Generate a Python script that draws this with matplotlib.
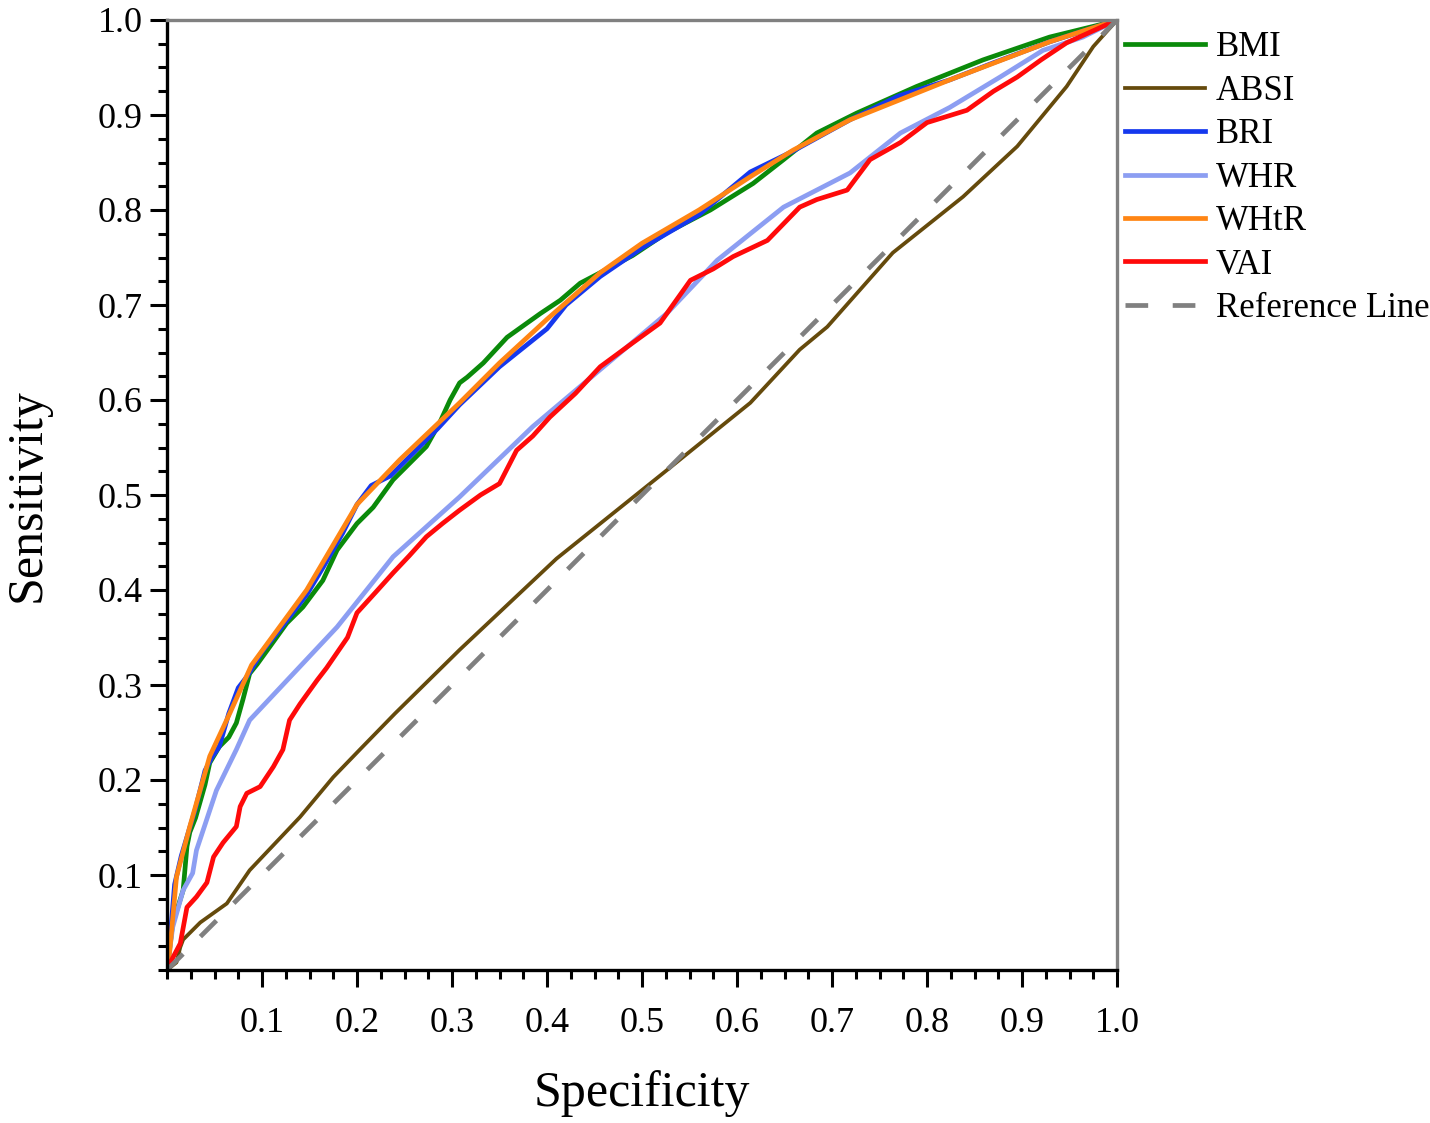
import numpy as np
import matplotlib
matplotlib.use('Agg')
import matplotlib.pyplot as plt
from matplotlib.ticker import MultipleLocator, FixedLocator

plt.rcParams['font.family'] = ['Liberation Serif', 'DejaVu Serif']

# ROC points (x = 1 - specificity axis shown as "Specificity")
bmi_x = [0, 0.006, 0.017, 0.021, 0.024, 0.03, 0.04, 0.045, 0.055, 0.065, 0.073, 0.08, 0.087, 0.095,
         0.108, 0.126, 0.143, 0.164, 0.179, 0.2, 0.217, 0.238, 0.259, 0.273, 0.287, 0.298, 0.308,
         0.316, 0.333, 0.358, 0.393, 0.414, 0.435, 0.456, 0.49, 0.526, 0.572, 0.617, 0.649, 0.684,
         0.726, 0.789, 0.859, 0.929, 0.982, 1.0]
bmi_y = [0, 0.049, 0.084, 0.13, 0.145, 0.16, 0.195, 0.218, 0.235, 0.245, 0.26, 0.285, 0.312, 0.322,
         0.34, 0.365, 0.382, 0.41, 0.442, 0.47, 0.487, 0.516, 0.537, 0.551, 0.576, 0.60, 0.618,
         0.624, 0.639, 0.666, 0.691, 0.705, 0.723, 0.734, 0.752, 0.776, 0.80, 0.828, 0.853, 0.881,
         0.902, 0.93, 0.958, 0.982, 0.995, 1.0]

absi_x = [0, 0.01, 0.014, 0.017, 0.035, 0.063, 0.087, 0.14, 0.175, 0.203, 0.24, 0.308, 0.41,
          0.526, 0.614, 0.666, 0.695, 0.764, 0.838, 0.895, 0.947, 0.975, 1.0]
absi_y = [0, 0.008, 0.024, 0.032, 0.05, 0.07, 0.105, 0.161, 0.203, 0.232, 0.27, 0.337, 0.433,
          0.526, 0.597, 0.653, 0.677, 0.755, 0.814, 0.867, 0.93, 0.972, 1.0]

bri_x = [0, 0.003, 0.008, 0.015, 0.024, 0.03, 0.04, 0.048, 0.055, 0.065, 0.075, 0.085, 0.1,
         0.12, 0.147, 0.165, 0.185, 0.2, 0.215, 0.235, 0.26, 0.285, 0.308, 0.35, 0.4, 0.42,
         0.456, 0.5, 0.56, 0.614, 0.659, 0.719, 0.77, 0.824, 0.87, 0.929, 1.0]
bri_y = [0, 0.03, 0.09, 0.12, 0.15, 0.17, 0.21, 0.225, 0.235, 0.27, 0.297, 0.31, 0.335,
         0.36, 0.395, 0.425, 0.46, 0.49, 0.51, 0.52, 0.545, 0.57, 0.595, 0.635, 0.675, 0.70,
         0.73, 0.76, 0.795, 0.84, 0.862, 0.895, 0.92, 0.937, 0.955, 0.977, 1.0]

whr_x = [0, 0.006, 0.017, 0.027, 0.031, 0.052, 0.073, 0.087, 0.133, 0.179, 0.238, 0.308,
         0.385, 0.456, 0.526, 0.579, 0.649, 0.719, 0.772, 0.824, 0.877, 0.922, 0.964, 1.0]
whr_y = [0, 0.045, 0.084, 0.102, 0.126, 0.189, 0.232, 0.263, 0.312, 0.361, 0.435, 0.498,
         0.572, 0.632, 0.691, 0.747, 0.803, 0.839, 0.881, 0.908, 0.94, 0.968, 0.982, 1.0]

whtr_x = [0, 0.003, 0.01, 0.024, 0.045, 0.066, 0.089, 0.147, 0.2, 0.245, 0.308, 0.35, 0.4,
          0.456, 0.5, 0.56, 0.614, 0.659, 0.719, 0.824, 0.929, 1.0]
whtr_y = [0, 0.021, 0.098, 0.151, 0.225, 0.27, 0.321, 0.40, 0.49, 0.537, 0.597, 0.639, 0.685,
          0.734, 0.765, 0.80, 0.835, 0.863, 0.895, 0.937, 0.977, 1.0]

vai_x = [0, 0.003, 0.014, 0.021, 0.031, 0.042, 0.049, 0.059, 0.073, 0.077, 0.084, 0.098,
         0.112, 0.122, 0.129, 0.14, 0.158, 0.168, 0.179, 0.19, 0.2, 0.22, 0.238, 0.255, 0.273,
         0.29, 0.308, 0.33, 0.35, 0.368, 0.385, 0.403, 0.43, 0.456, 0.49, 0.519, 0.551, 0.575,
         0.596, 0.632, 0.666, 0.684, 0.716, 0.74, 0.772, 0.8, 0.842, 0.87, 0.895, 0.92, 0.947, 1.0]
vai_y = [0, 0.007, 0.028, 0.066, 0.077, 0.092, 0.119, 0.134, 0.151, 0.172, 0.186, 0.193,
         0.214, 0.232, 0.263, 0.28, 0.305, 0.318, 0.334, 0.35, 0.376, 0.398, 0.418, 0.436, 0.456,
         0.47, 0.484, 0.50, 0.512, 0.547, 0.562, 0.582, 0.607, 0.635, 0.66, 0.681, 0.726, 0.738,
         0.751, 0.768, 0.803, 0.811, 0.821, 0.853, 0.871, 0.892, 0.905, 0.925, 0.94, 0.958, 0.976, 1.0]

ref_x = [0, 1]
ref_y = [0, 1]

fig = plt.figure(figsize=(14.3, 11.23), dpi=100)
ax = fig.add_axes([167 / 1430, 1 - 970 / 1123, 950 / 1430, 950 / 1123])

lw = 3.4
ax.plot(bmi_x, bmi_y, color='#0a8a0a', lw=lw, label='BMI')
ax.plot(absi_x, absi_y, color='#654a0c', lw=2.7, label='ABSI')
ax.plot(bri_x, bri_y, color='#1538ee', lw=lw, label='BRI')
ax.plot(whr_x, whr_y, color='#8c9ef2', lw=lw, label='WHR')
ax.plot(whtr_x, whtr_y, color='#ff8514', lw=lw, label='WHtR')
ax.plot(vai_x, vai_y, color='#ff0a0a', lw=lw, label='VAI')
ax.plot(ref_x, ref_y, color='#808080', lw=lw, dashes=(4.8, 5.2), label='Reference Line')

ax.set_xlim(0, 1)
ax.set_ylim(0, 1)

major = [0.1, 0.2, 0.3, 0.4, 0.5, 0.6, 0.7, 0.8, 0.9, 1.0]
labels = ['0.1', '0.2', '0.3', '0.4', '0.5', '0.6', '0.7', '0.8', '0.9', '1.0']
ax.xaxis.set_major_locator(FixedLocator(major))
ax.yaxis.set_major_locator(FixedLocator(major))
ax.set_xticklabels(labels)
ax.set_yticklabels(labels)
ax.xaxis.set_minor_locator(MultipleLocator(0.025))
ax.yaxis.set_minor_locator(MultipleLocator(0.025))
ax.tick_params(which='major', direction='out', length=12.5, width=2.2, labelsize=26, pad=14)
ax.tick_params(which='minor', direction='out', length=6.5, width=2.2)
ax.tick_params(axis='y', which='major', pad=5)
ax.tick_params(top=False, right=False)

for s in ['left', 'bottom']:
    ax.spines[s].set_color('black')
    ax.spines[s].set_linewidth(2.4)
for s in ['top', 'right']:
    ax.spines[s].set_color('#808080')
    ax.spines[s].set_linewidth(2.4)

ax.set_xlabel('Specificity', fontsize=36, labelpad=22)
ax.set_ylabel('Sensitivity', fontsize=36, labelpad=34)

fig.legend(loc='upper left', bbox_to_anchor=(1122 / 1430, 1 - 28 / 1123), frameon=False,
           fontsize=25, handlelength=2.3, handletextpad=0.3, labelspacing=0.3,
           borderaxespad=0, borderpad=0.1)

fig.savefig('out.png', dpi=100)
